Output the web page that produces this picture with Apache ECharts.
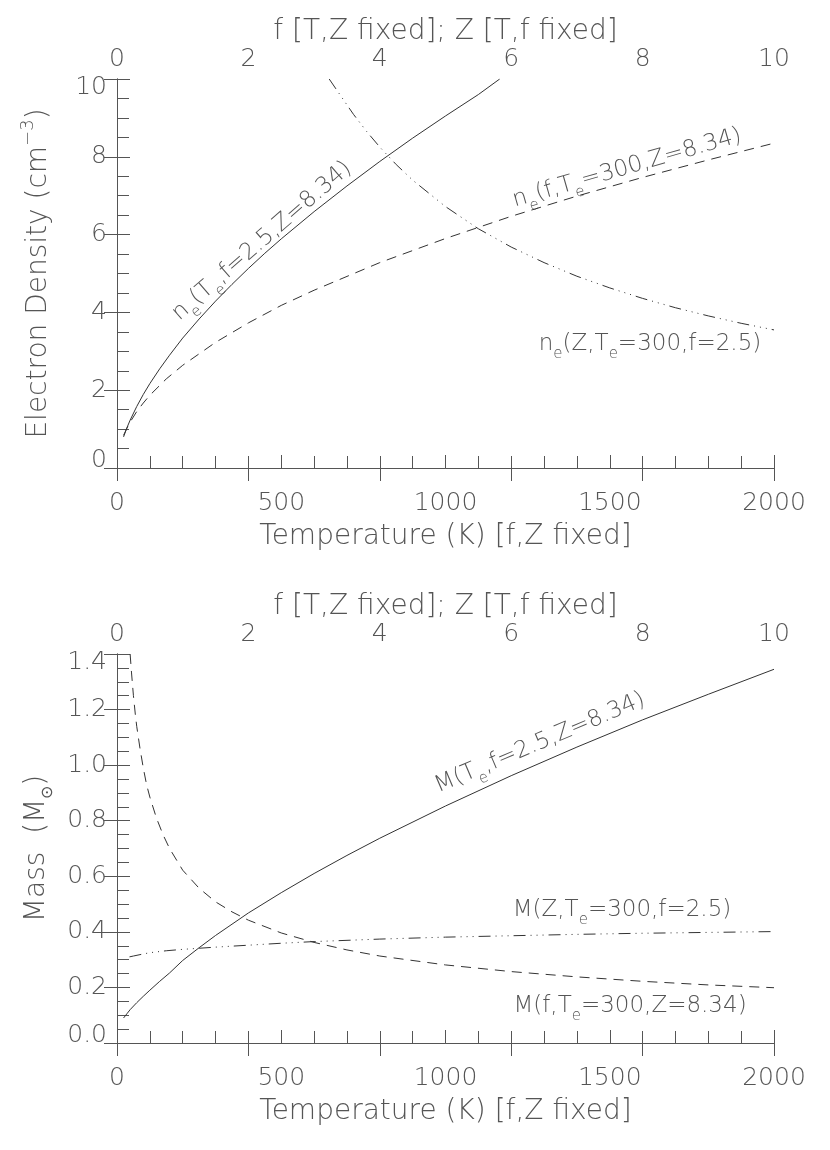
<!DOCTYPE html>
<html>
<head>
<meta charset="utf-8">
<script src="https://cdn.jsdelivr.net/npm/echarts@6.0.0/dist/echarts.min.js"></script>
<style>
  html, body { margin: 0; padding: 0; background: #fff; }
  #main { width: 830px; height: 1150px; }
</style>
</head>
<body>
<div id="main"></div>
<script>
// ---- top panel: electron density ----
var tempNe = [20, 30, 40, 60, 80, 100, 130, 160, 200, 250, 300, 350, 400, 450, 500, 600, 700, 800, 900, 1000, 1100, 1165];
var neTemp = [0.80, 1.03, 1.23, 1.58, 1.89, 2.17, 2.55, 2.90, 3.34, 3.83, 4.29, 4.72, 5.13, 5.52, 5.89, 6.59, 7.25, 7.88, 8.48, 9.05, 9.60, 10.0];
var fNe = [0.1, 0.15, 0.2, 0.3, 0.4, 0.5, 0.75, 1, 1.5, 2, 2.5, 3, 4, 5, 6, 7, 8, 9, 10];
var neF = [0.84, 1.02, 1.18, 1.45, 1.67, 1.87, 2.29, 2.64, 3.23, 3.73, 4.18, 4.57, 5.28, 5.90, 6.47, 6.99, 7.47, 7.92, 8.35];
var zNe = [3.23, 3.4, 3.6, 3.8, 4, 4.25, 4.5, 5, 5.5, 6, 6.5, 7, 7.5, 8, 8.5, 9, 9.5, 10];
var neZ = [10.0, 9.58, 9.09, 8.65, 8.25, 7.80, 7.40, 6.72, 6.15, 5.68, 5.28, 4.93, 4.63, 4.36, 4.12, 3.91, 3.72, 3.55];

// ---- bottom panel: mass ----
var tempM = [20, 30, 40, 60, 80, 100, 130, 160, 200, 250, 300, 400, 500, 600, 700, 800, 1000, 1200, 1400, 1600, 1800, 2000];
var massT = [0.09, 0.105, 0.12, 0.145, 0.168, 0.19, 0.222, 0.252, 0.297, 0.343, 0.387, 0.468, 0.541, 0.61, 0.675, 0.737, 0.853, 0.962, 1.065, 1.163, 1.255, 1.345];
var fM = [0.2, 0.22, 0.25, 0.28, 0.3, 0.35, 0.4, 0.45, 0.5, 0.6, 0.7, 0.8, 1, 1.25, 1.5, 1.75, 2, 2.5, 3, 3.5, 4, 5, 6, 7, 8, 9, 10];
var massF = [1.40, 1.335, 1.25, 1.18, 1.14, 1.06, 0.99, 0.93, 0.885, 0.81, 0.75, 0.70, 0.622, 0.557, 0.508, 0.472, 0.442, 0.396, 0.362, 0.335, 0.313, 0.281, 0.257, 0.238, 0.222, 0.209, 0.199];
var zM = [0.19, 0.25, 0.35, 0.5, 0.75, 1, 1.25, 1.5, 2, 2.5, 3, 4, 5, 6, 7, 8, 9, 10];
var massZ = [0.31, 0.313, 0.318, 0.325, 0.332, 0.337, 0.341, 0.345, 0.352, 0.359, 0.365, 0.374, 0.381, 0.386, 0.391, 0.395, 0.398, 0.401];

// min, max, major step, minor step
var tempTicks = [0, 2000, 500, 100];
var topTicks = [0, 10, 2, 0.5];
var neTicks = [0, 10, 2, 0.5];
var massTicks = [0, 1.4, 0.2, 0.05];

var font = 'DejaVu Sans';
var textColor = '#555';
var axisColor = '#555';
var lineColor = '#333';
var minorLen = 6;

function pairs(xs, ys) {
  return xs.map(function (x, i) { return [x, ys[i]]; });
}

var subRich = {
  m: { fontFamily: font, fontSize: 23, fontWeight: 200, color: textColor, lineHeight: 36, verticalAlign: 'middle' },
  s: { fontFamily: font, fontSize: 15, fontWeight: 200, color: textColor, lineHeight: 14, verticalAlign: 'bottom' }
};

// major axis: line, long inward ticks, labels, name
function majorAxis(grid, pos, ticks, extra) {
  var ax = {
    gridIndex: grid, type: 'value', position: pos,
    min: ticks[0], max: ticks[1], interval: ticks[2],
    axisLine: { show: true, lineStyle: { color: axisColor, width: 1 } },
    axisTick: { show: true, inside: true, length: 13, lineStyle: { color: axisColor } },
    axisLabel: { show: false },
    splitLine: { show: false }
  };
  for (var k in extra) ax[k] = extra[k];
  return ax;
}
// minor axis: short ticks only, shifted inward so they end on the frame
function minorAxis(grid, pos, ticks) {
  return {
    gridIndex: grid, type: 'value', position: pos, offset: -minorLen,
    min: ticks[0], max: ticks[1], interval: ticks[3],
    axisLine: { show: false },
    axisTick: { show: true, inside: false, length: minorLen, lineStyle: { color: axisColor } },
    axisLabel: { show: false },
    splitLine: { show: false }
  };
}
function tickLabel(margin, fmt) {
  return { show: true, margin: margin, fontFamily: font, fontSize: 25, fontWeight: 200, color: textColor, formatter: fmt };
}
function plain(v) { return String(v); }
var titleStyle = { fontFamily: font, fontSize: 28, fontWeight: 200, color: textColor };

function xAxesFor(grid) {
  return [
    majorAxis(grid, 'bottom', tempTicks, {
      name: 'Temperature (K) [f,Z fixed]', nameLocation: 'middle', nameGap: 55,
      nameTextStyle: titleStyle,
      axisLabel: tickLabel(23, plain)
    }),
    minorAxis(grid, 'bottom', tempTicks),
    majorAxis(grid, 'top', topTicks, {
      name: 'f [T,Z fixed]; Z [T,f fixed]', nameLocation: 'middle', nameGap: 19,
      nameTextStyle: titleStyle,
      axisLabel: tickLabel(7, plain)
    }),
    minorAxis(grid, 'top', topTicks)
  ];
}
function yAxesFor(grid, ticks, name, rich, digits) {
  var lab = tickLabel(10, function (v) { return v.toFixed(digits); });
  lab.lineHeight = 16;
  lab.verticalAlignMinLabel = 'bottom';
  lab.verticalAlignMaxLabel = 'top';
  return [
    majorAxis(grid, 'left', ticks, {
      name: name, nameLocation: 'middle', nameGap: 58,
      nameTextStyle: { rich: rich },
      axisLabel: lab
    }),
    minorAxis(grid, 'left', ticks),
    majorAxis(grid, 'right', ticks, {}),
    minorAxis(grid, 'right', ticks)
  ];
}
function curve(xi, yi, xs, ys, type) {
  return {
    type: 'line', xAxisIndex: xi, yAxisIndex: yi,
    data: pairs(xs, ys), showSymbol: false, symbol: 'none',
    lineStyle: { color: lineColor, width: 1, type: type },
    silent: true
  };
}
function label(x, y, deg, text) {
  return {
    type: 'text', x: x, y: y, rotation: deg * Math.PI / 180,
    style: { text: text, rich: subRich, align: 'center', verticalAlign: 'middle', fill: textColor }
  };
}

var dashed = [10, 7];
var dashDot = [12, 5, 1, 5, 1, 5, 1, 5];

var option = {
  backgroundColor: '#fff',
  animation: false,
  grid: [
    { left: 117, top: 79, width: 657, height: 389 },
    { left: 117, top: 654, width: 657, height: 389 }
  ],
  xAxis: xAxesFor(0).concat(xAxesFor(1)),
  yAxis: yAxesFor(0, neTicks, '{a|Electron Density (cm}{p|\u22123}{a|)}', {
      a: { fontFamily: font, fontSize: 28, fontWeight: 200, color: textColor, lineHeight: 40, verticalAlign: 'middle' },
      p: { fontFamily: font, fontSize: 18, fontWeight: 200, color: textColor, lineHeight: 14, verticalAlign: 'top' }
    }, 0).concat(yAxesFor(1, massTicks, '{a|Mass  (M}{s|\u2299}{a|)}', {
      a: { fontFamily: font, fontSize: 28, fontWeight: 200, color: textColor, lineHeight: 40, verticalAlign: 'middle' },
      s: { fontFamily: font, fontSize: 16, fontWeight: 200, color: textColor, lineHeight: 16, verticalAlign: 'bottom' }
    }, 1)),
  series: [
    curve(0, 0, tempNe, neTemp, 'solid'),
    curve(2, 0, fNe, neF, dashed),
    curve(2, 0, zNe, neZ, dashDot),
    curve(4, 4, tempM, massT, 'solid'),
    curve(6, 4, fM, massF, dashed),
    curve(6, 4, zM, massZ, dashDot)
  ],
  graphic: [
    label(262, 241, 41, '{m|n}{s|e}{m|(T}{s|e}{m|,f=2.5,Z=8.34)}'),
    label(627, 168, 16, '{m|n}{s|e}{m|(f,T}{s|e}{m|=300,Z=8.34)}'),
    label(650, 344, 0, '{m|n}{s|e}{m|(Z,T}{s|e}{m|=300,f=2.5)}'),
    label(540, 743, 23, '{m|M(T}{s|e}{m|,f=2.5,Z=8.34)}'),
    label(622, 910, 0, '{m|M(Z,T}{s|e}{m|=300,f=2.5)}'),
    label(630, 1006, 0, '{m|M(f,T}{s|e}{m|=300,Z=8.34)}')
  ]
};

var chart = echarts.init(document.getElementById('main'), null, { renderer: 'canvas' });
chart.setOption(option);
</script>
</body>
</html>
